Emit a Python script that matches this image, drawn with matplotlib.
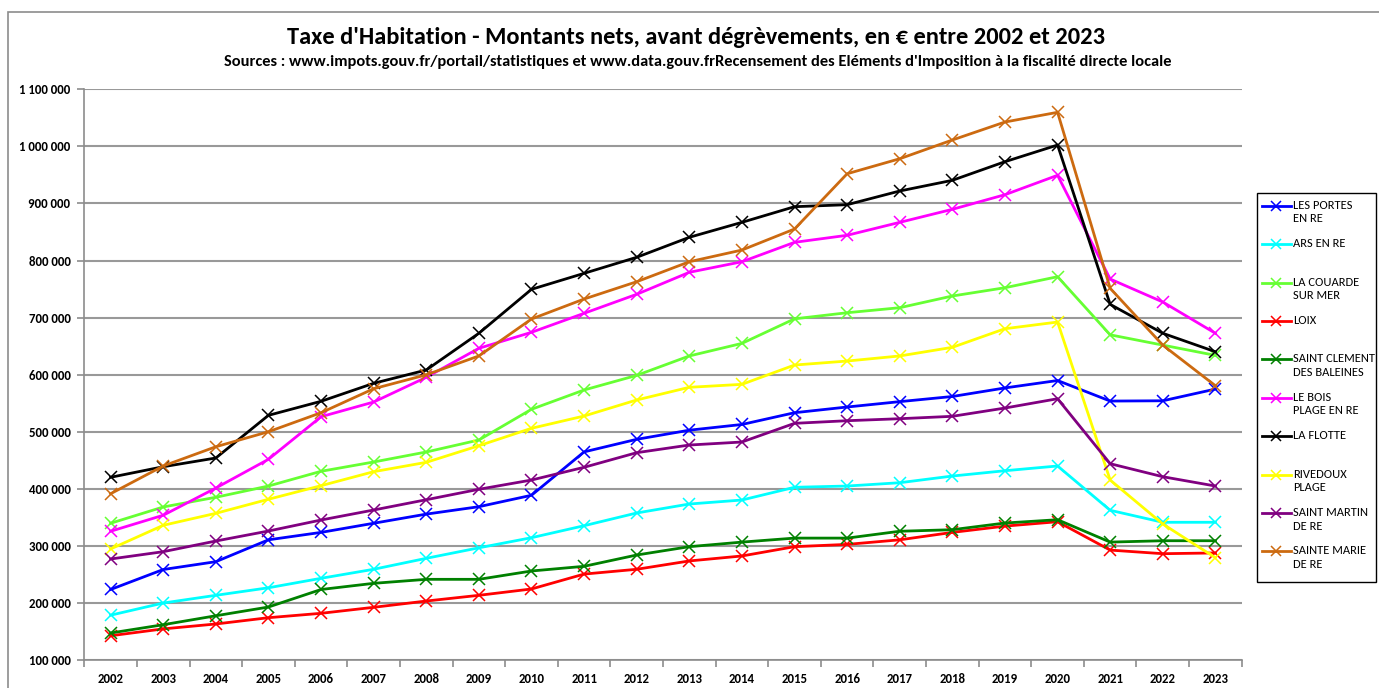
import matplotlib
matplotlib.use("Agg")
import matplotlib.pyplot as plt
from matplotlib.lines import Line2D
from matplotlib.patches import Rectangle
import numpy as np
import logging
logging.getLogger('matplotlib.font_manager').setLevel(logging.ERROR)

years = [str(y) for y in range(2002, 2024)]

les_portes = [224000, 259000, 272700, 311000, 324000, 340000, 356000, 369000, 389000, 465000, 487000,
              503000, 513000, 533600, 543600, 553000, 562000, 577000, 590000, 554000, 554500, 575000]
ars = [179000, 200300, 213800, 227000, 243600, 259400, 278600, 297000, 314700, 335700, 358000,
       373700, 380700, 403000, 405200, 411000, 422700, 432000, 440300, 362700, 341700, 341700]
couarde = [340000, 368500, 385500, 405200, 431000, 447300, 464800, 485800, 539600, 573400, 599000,
           633000, 655000, 698000, 708700, 717500, 738000, 752500, 771800, 670000, 652000, 634000]
loix = [143000, 155000, 163600, 174600, 182300, 192800, 203800, 213800, 224900, 251000, 259400,
        274000, 282700, 299000, 303000, 311000, 324000, 335000, 342700, 293000, 286700, 288000]
st_clement = [147800, 162300, 178000, 193300, 224000, 234800, 241800, 241800, 256400, 264600, 284400,
              299000, 307000, 314000, 314000, 326000, 328700, 340400, 346200, 307000, 309400, 309400]
bois_plage = [326000, 354000, 401700, 452000, 526600, 552300, 595600, 646400, 674400, 707700, 741000,
              779500, 798000, 832000, 844300, 867000, 889800, 915400, 949400, 767700, 727500, 672700]
flotte = [420500, 439000, 454300, 529000, 553600, 585100, 608400, 672700, 749700, 777700, 805800,
          840800, 867000, 894400, 897900, 921900, 940600, 973200, 1002400, 723400, 672700, 640400]
rivedoux = [295000, 336400, 357400, 382000, 405800, 430300, 446700, 475800, 506300, 527800, 555900,
            578100, 583300, 617100, 624100, 633000, 648100, 680700, 692400, 415700, 338700, 279700]
st_martin = [277400, 290200, 308900, 326400, 345700, 363200, 381200, 399500, 415700, 438000, 463600,
             477000, 482300, 515000, 519600, 523100, 527300, 541800, 558100, 444300, 421500, 405200]
ste_marie = [391700, 440300, 474000, 500300, 533600, 575600, 600000, 633000, 697700, 732700, 763000,
             798000, 818500, 855300, 952100, 978400, 1011200, 1042700, 1059700, 751400, 652000, 580900]

series_labels = ["LES PORTES\nEN RE", "ARS EN RE", "LA COUARDE\nSUR MER", "LOIX",
                 "SAINT CLEMENT\nDES BALEINES", "LE BOIS\nPLAGE EN RE", "LA FLOTTE",
                 "RIVEDOUX\nPLAGE", "SAINT MARTIN\nDE RE", "SAINTE MARIE\nDE RE"]
series_values = [les_portes, ars, couarde, loix, st_clement, bois_plage, flotte, rivedoux, st_martin, ste_marie]
series_colors = ["#0000FF", "#00FFFF", "#66FF33", "#FF0000", "#008000", "#FF00FF", "#000000",
                 "#FFFF00", "#800080", "#CC6A10"]

yticks = list(range(100000, 1100001, 100000))
ytick_labels = ["{:,}".format(v).replace(",", " ") for v in yticks]

title = "Taxe d'Habitation - Montants nets, avant dégrèvements, en € entre 2002 et 2023"
subtitle = ("Sources : www.impots.gouv.fr/portail/statistiques et www.data.gouv.frRecensement des "
            "Eléments d'Imposition à la fiscalité directe locale")

FONT = ['Carlito', 'Liberation Sans Narrow', 'Open Sans', 'DejaVu Sans']
FONT2 = ['Carlito', 'Open Sans', 'DejaVu Sans']

W, H = 1379, 688
fig = plt.figure(figsize=(W / 100, H / 100), dpi=100)

# outer chart frame
fig.patches.append(Rectangle((8 / W, -0.1), 1.2, 1 - 12 / H + 0.1, transform=fig.transFigure,
                             fill=False, edgecolor="#8c8c8c", linewidth=1.2))

ax = fig.add_axes([84.3 / W, 1 - 660.3 / H, (1241.7 - 84.3) / W, (660.3 - 89.3) / H])
x = np.arange(len(years))
for vals, col in zip(series_values, series_colors):
    ax.plot(x, vals, color=col, linewidth=2.0, marker="x", markersize=8.5, markeredgewidth=1.1,
            zorder=3)

ax.set_xlim(-0.5, len(years) - 0.5)
ax.set_ylim(100000, 1100000)
ax.set_yticks(yticks)
ax.set_yticklabels(ytick_labels, fontfamily=FONT2, fontweight="bold", fontsize=9.3)
ax.set_xticks(x)
ax.set_xticklabels(years, fontfamily=FONT2, fontweight="bold", fontsize=9.3)
ax.set_xticks(np.arange(-0.5, len(years)), minor=True)
ax.tick_params(axis="x", which="major", length=0, pad=9)
ax.tick_params(axis="x", which="minor", length=5, color="#8c8c8c", width=1.2)
ax.tick_params(axis="y", length=5, color="#8c8c8c", width=1.2, pad=5)
ax.grid(axis="y", color="#999999", linewidth=1.5, zorder=0)
for s in ["top", "right"]:
    ax.spines[s].set_visible(False)
for s in ["left", "bottom"]:
    ax.spines[s].set_color("#8c8c8c")
    ax.spines[s].set_linewidth(1.2)

fig.text(696 / W, 1 - 38 / H, title, ha="center", va="center", fontsize=17.6, fontweight="bold",
         family=FONT)
fig.text(698 / W, 1 - 62 / H, subtitle, ha="center", va="center", fontsize=11.8, fontweight="bold",
         family=FONT)

# legend
lx0, ly0, lx1, ly1 = 1256.7, 193.3, 1376, 581.7
fig.patches.append(Rectangle((lx0 / W, 1 - ly1 / H), (lx1 - lx0) / W, (ly1 - ly0) / H,
                             transform=fig.transFigure, fill=False, edgecolor="black", linewidth=1.0))
for i, (lab, col) in enumerate(zip(series_labels, series_colors)):
    yy = 205.7 + i * 38.4
    fig.add_artist(Line2D([1262 / W, 1290.7 / W], [1 - yy / H, 1 - yy / H], color=col, linewidth=2.0,
                          transform=fig.transFigure))
    fig.add_artist(Line2D([1276.3 / W], [1 - yy / H], color=col, marker="x", markersize=7,
                          markeredgewidth=1.1, transform=fig.transFigure))
    fig.text(1293 / W, 1 - (yy - 6) / H, lab, ha="left", va="top", fontsize=9, family=FONT2,
             linespacing=1.3)

fig.savefig("out.png", dpi=100)
